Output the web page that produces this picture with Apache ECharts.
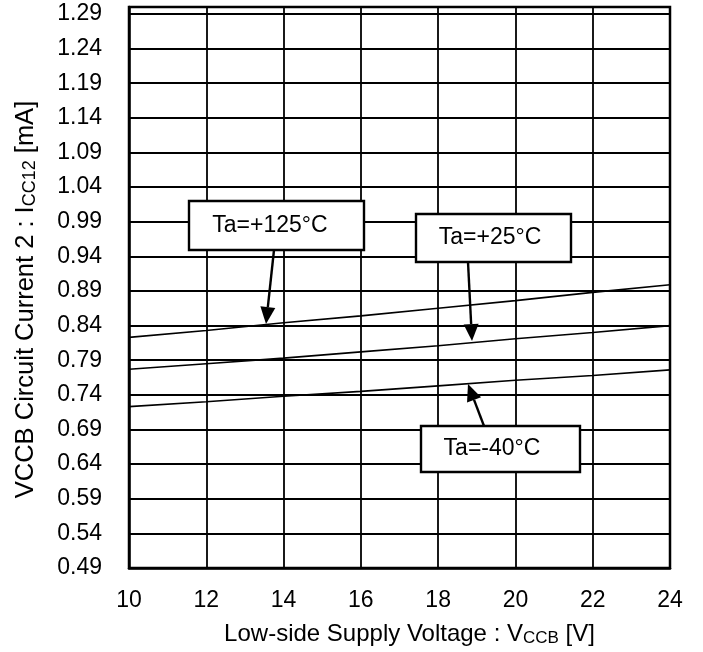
<!DOCTYPE html>
<html><head><meta charset="utf-8">
<script src="https://cdn.jsdelivr.net/npm/echarts@6/dist/echarts.min.js"></script>
<style>html,body{margin:0;padding:0;background:#fff}#c{width:703px;height:652px}</style>
</head><body><div id="c"></div>
<script>
// ---- data ----
const voltages = [10, 12, 14, 16, 18, 20, 22, 24];
const ta125 = [0.823, 0.833, 0.844, 0.854, 0.865, 0.876, 0.888, 0.899];
const ta25  = [0.777, 0.785, 0.793, 0.802, 0.811, 0.821, 0.830, 0.840];
const taM40 = [0.723, 0.730, 0.738, 0.745, 0.753, 0.761, 0.768, 0.776];
const yTicks = [0.49, 0.54, 0.59, 0.64, 0.69, 0.74, 0.79, 0.84, 0.89, 0.94, 0.99, 1.04, 1.09, 1.14, 1.19, 1.24, 1.29];
const xTicks = [10, 12, 14, 16, 18, 20, 22, 24];
const labels = ['Ta=+125°C', 'Ta=+25°C', 'Ta=-40°C'];

const FONT = 'Liberation Sans, Arial, sans-serif';
const chart = echarts.init(document.getElementById('c'));

function pairs(arr) { return voltages.map((v, i) => [v, arr[i]]); }

function arrow(x1, y1, x2, y2) {
  const dx = x2 - x1, dy = y2 - y1, L = Math.hypot(dx, dy);
  const ux = dx / L, uy = dy / L, hl = 17, hw = 7.5;
  const bx = x2 - ux * hl, by = y2 - uy * hl;
  return [
    { type: 'line', z: 100, shape: { x1: x1, y1: y1, x2: bx, y2: by }, style: { stroke: '#000', lineWidth: 2.4 } },
    { type: 'polygon', z: 100, shape: { points: [[x2, y2], [bx - uy * hw, by + ux * hw], [bx + uy * hw, by - ux * hw]] }, style: { fill: '#000' } }
  ];
}
function box(x, y, w, h, text, tx, ty) {
  return [
    { type: 'rect', z: 100, shape: { x: x, y: y, width: w, height: h }, style: { fill: '#fff', stroke: '#000', lineWidth: 2.4 } },
    { type: 'text', z: 101, x: tx, y: ty, style: { text: text, fill: '#000', font: '23px ' + FONT, textAlign: 'center', textVerticalAlign: 'middle' } }
  ];
}

const graphics = [].concat(
  box(189, 201, 175, 49, labels[0], 270, 226),
  arrow(274, 250, 266, 324),
  box(416, 214, 155, 48, labels[1], 490, 238),
  arrow(468, 262, 472, 341),
  box(421, 426, 159, 46, labels[2], 492, 449),
  arrow(484, 426, 468, 384)
);

chart.setOption({
  animation: false,
  backgroundColor: '#fff',
  grid: { left: 129, right: 33, top: 7, bottom: 82, show: true, borderColor: '#000', borderWidth: 2.5, containLabel: false },
  xAxis: {
    type: 'value', min: 10, max: 24, interval: 2,
    axisLine: { show: true, lineStyle: { color: '#000', width: 2.5 } },
    axisTick: { show: false, customValues: xTicks },
    splitLine: { show: true, lineStyle: { color: '#000', width: 1.8 } },
    axisLabel: { customValues: xTicks, color: '#000', fontSize: 23, fontFamily: FONT, margin: 21 },
    name: 'Low-side Supply Voltage : V{sub|CCB} [V]',
    nameLocation: 'middle', nameGap: 54,
    nameTextStyle: { color: '#000', fontSize: 24, fontFamily: FONT, padding: [0, 0, 0, 20],
      rich: { sub: { fontSize: 17, fontFamily: FONT, color: '#000', verticalAlign: 'bottom', padding: [8, 0, 0, 0] } } }
  },
  yAxis: {
    type: 'value', min: 0.49, max: 1.30,
    axisLine: { show: true, lineStyle: { color: '#000', width: 2.5 } },
    axisTick: { show: false, customValues: yTicks },
    splitLine: { show: true, lineStyle: { color: '#000', width: 1.8 } },
    axisLabel: { customValues: yTicks, color: '#000', fontSize: 23, fontFamily: FONT, margin: 27,
      formatter: v => v.toFixed(2) },
    name: 'VCCB Circuit Current 2 : I{sub|CC12} [mA]',
    nameLocation: 'middle', nameGap: 90, nameRotate: 90,
    nameTextStyle: { color: '#000', fontSize: 25.5, fontFamily: FONT, padding: [0, 24, 0, 0],
      rich: { sub: { fontSize: 18, fontFamily: FONT, color: '#000', verticalAlign: 'bottom', padding: [8, 0, 0, 0] } } }
  },
  series: [
    { name: labels[0], type: 'line', data: pairs(ta125), showSymbol: false, symbol: 'none', lineStyle: { color: '#000', width: 1.6 }, z: 5 },
    { name: labels[1], type: 'line', data: pairs(ta25), showSymbol: false, symbol: 'none', lineStyle: { color: '#000', width: 1.6 }, z: 5 },
    { name: labels[2], type: 'line', data: pairs(taM40), showSymbol: false, symbol: 'none', lineStyle: { color: '#000', width: 1.6 }, z: 5 }
  ],
  graphic: graphics
});
</script>
</body></html>
